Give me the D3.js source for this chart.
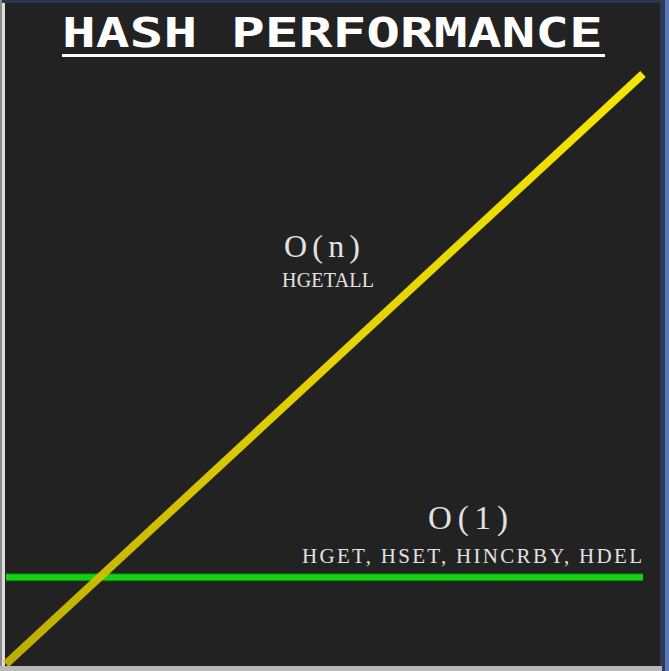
<!DOCTYPE html>
<html>
<head>
<meta charset="utf-8">
<script src="https://cdn.jsdelivr.net/npm/d3@7"></script>
<style>
  html, body { margin: 0; padding: 0; background: #222222; overflow: hidden; }
  svg { display: block; }
</style>
</head>
<body>
<div id="chart"></div>
<script>
// chart data
const sizes = [0, 10];               // input size n (arbitrary units)
const linearCost = [0, 10];          // O(n): HGETALL
const constantCost = [1.47, 1.47];   // O(1): HGET, HSET, HINCRBY, HDEL
const titleText = 'HASH PERFORMANCE';
const linearLabel = 'O(n)';
const linearOps = 'HGETALL';
const constantLabel = 'O(1)';
const constantOps = 'HGET, HSET, HINCRBY, HDEL';

function drawChart() {
    const width = 669;
    const height = 671;

    const svg = d3.select('#chart').append('svg')
        .attr('width', width)
        .attr('height', height);

    // background + frame strips
    svg.append('rect').attr('width', width).attr('height', height).attr('fill', '#222222');
    svg.append('rect').attr('x', 0).attr('y', 0).attr('width', width).attr('height', 3).attr('fill', '#2b3652');
    svg.append('rect').attr('x', 0).attr('y', 0).attr('width', 2).attr('height', height).attr('fill', '#8a8a8a');
    svg.append('rect').attr('x', 2).attr('y', 3).attr('width', 3).attr('height', height).attr('fill', '#dcdcdc');
    svg.append('rect').attr('x', 660).attr('y', 0).attr('width', 5).attr('height', height).attr('fill', '#2e3a58');
    svg.append('rect').attr('x', 665).attr('y', 0).attr('width', 4).attr('height', height).attr('fill', '#5577b5');
    svg.append('rect').attr('x', 0).attr('y', 666).attr('width', 662).attr('height', 5).attr('fill', '#b8b8b8');

    const x = d3.scaleLinear().domain([0, 10]).range([6, 643]);
    const y = d3.scaleLinear().domain([0, 10]).range([664, 74]);

    const line = d3.line()
        .x(d => x(d[0]))
        .y(d => y(d[1]));

    // yellow gradient along the O(n) line
    const grad = svg.append('defs').append('linearGradient')
        .attr('id', 'yellowGrad')
        .attr('gradientUnits', 'userSpaceOnUse')
        .attr('x1', x(0)).attr('y1', y(0))
        .attr('x2', x(10)).attr('y2', y(10));
    grad.append('stop').attr('offset', '0%').attr('stop-color', '#c6b400');
    grad.append('stop').attr('offset', '45%').attr('stop-color', '#ecd800');
    grad.append('stop').attr('offset', '100%').attr('stop-color', '#fff000');

    // O(1) line
    svg.append('path')
        .datum(sizes.map((s, i) => [s, constantCost[i]]))
        .attr('d', line)
        .attr('fill', 'none')
        .attr('stroke', '#0a7a0a')
        .attr('stroke-width', 8);
    svg.append('path')
        .datum(sizes.map((s, i) => [s, constantCost[i]]))
        .attr('d', line)
        .attr('fill', 'none')
        .attr('stroke', '#14d214')
        .attr('stroke-width', 6);

    // O(n) line
    svg.append('path')
        .datum(sizes.map((s, i) => [s, linearCost[i]]))
        .attr('d', line)
        .attr('fill', 'none')
        .attr('stroke', 'url(#yellowGrad)')
        .attr('stroke-width', 8)
        .attr('opacity', 0.95);

    // title - wide blocky mono, stretched horizontally
    svg.append('text')
        .attr('transform', 'translate(62,47) scale(1.37,1)')
        .attr('x', 0)
        .attr('y', 0)
        .style('font-family', '"DejaVu Sans Mono", monospace')
        .style('font-weight', 'bold')
        .style('font-size', '41px')
        .style('fill', '#ffffff')
        .text(titleText);
    svg.append('rect')
        .attr('x', 62).attr('y', 54)
        .attr('width', 543).attr('height', 3)
        .attr('fill', '#ffffff');

    const serif = '"Liberation Serif", "DejaVu Serif", serif';

    function label(txt, cx, by, size, len) {
        svg.append('text')
            .attr('x', cx - len / 2).attr('y', by)
            .attr('textLength', len)
            .attr('lengthAdjust', 'spacing')
            .style('font-family', serif)
            .style('font-size', size + 'px')
            .style('fill', '#e2e2e2')
            .text(txt);
    }

    label(linearLabel, 322, 257, 32, 76);
    label(linearOps, 328, 287, 20, 92);
    label(constantLabel, 468, 529, 33, 80);
    label(constantOps, 472, 563, 21, 340);
}

document.addEventListener('DOMContentLoaded', drawChart);
</script>
</body>
</html>
